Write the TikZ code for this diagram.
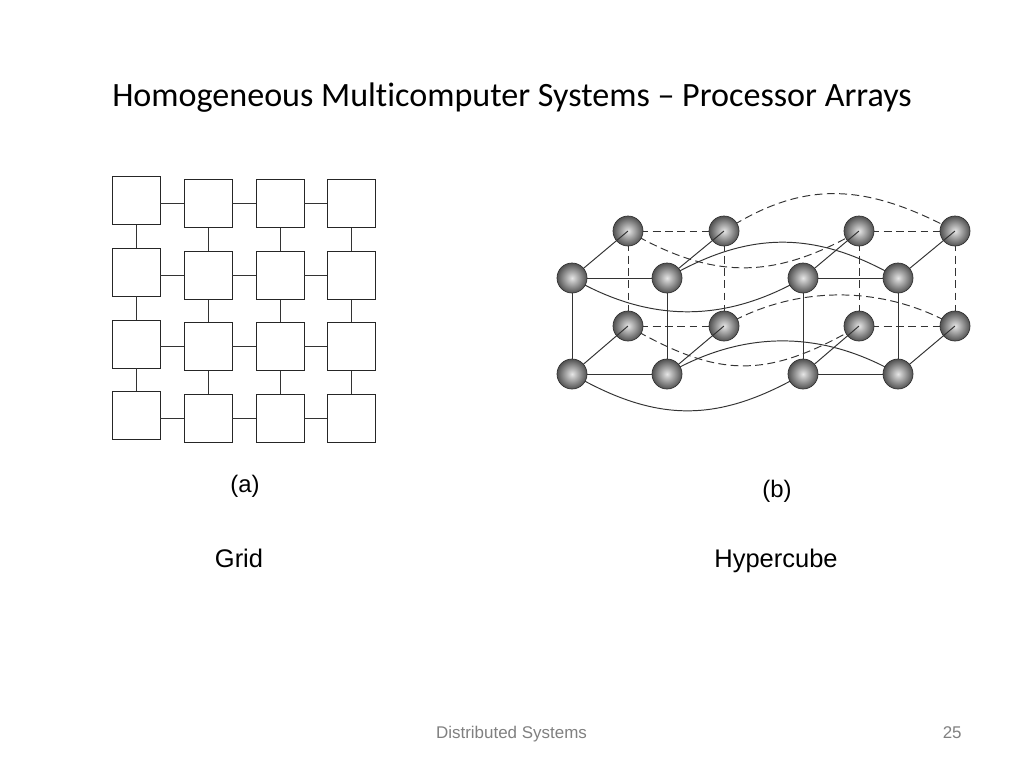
\documentclass[tikz,border=0pt]{standalone}
\usepackage{fontspec}
\setmainfont{Liberation Sans}
\newfontfamily\titlefont[Ligatures=NoCommon]{Carlito}
\usetikzlibrary{positioning}

\begin{document}
\begin{tikzpicture}[
    x=0.02cm,
    y=0.02cm,
    % Styles for the two networks
    cell/.style={draw=black!85, line width=0.55pt, fill=white, minimum size=0.96cm, inner sep=0pt},
    ball/.style={circle, draw=black!80, line width=0.4pt, inner color=black!10, outer color=black!68, minimum size=0.6cm, inner sep=0pt},
    link/.style={draw=black!80, line width=0.55pt},
    hidden/.style={draw=black!80, line width=0.55pt, dash pattern=on 4.5pt off 2.5pt},
    caption/.style={font=\fontsize{13.6}{16}\selectfont, inner sep=0pt, anchor=base},
    netname/.style={font=\fontsize{14.5}{17}\selectfont, inner sep=0pt, anchor=base},
    footer/.style={text=black!50, font=\fontsize{9.65}{12}\selectfont, inner sep=0pt}
]

    \useasboundingbox (0,0) rectangle (1024,-768);

    % 1. The Title
    \node[inner sep=0pt, anchor=base, font=\titlefont\fontsize{19.4}{22}\selectfont] (title) at (512,-106) {Homogeneous Multicomputer Systems – Processor Arrays};

    % 2. The Grid (first column sits a little higher)
    \foreach \r/\y in {1/200.5,2/272,3/344,4/415.5} {
        \node[cell] (g\r1) at (136,-\y) {};
    }
    \foreach \c/\x in {2/208,3/280,4/351.5} {
        \foreach \r/\y in {1/203.5,2/275.5,3/346.5,4/418.5} {
            \node[cell] (g\r\c) at (\x,-\y) {};
        }
    }
    \foreach \r in {1,2,3,4} {
        \draw[link] (g\r2.west -| g\r1.east) -- (g\r2.west);
        \draw[link] (g\r2) -- (g\r3);
        \draw[link] (g\r3) -- (g\r4);
    }
    \foreach \c in {1,2,3,4} {
        \draw[link] (g1\c) -- (g2\c);
        \draw[link] (g2\c) -- (g3\c);
        \draw[link] (g3\c) -- (g4\c);
    }

    % 3. The Hypercube, back of both cubes first
    \foreach \i/\x in {1/628,2/724,3/859,4/955} {
        \coordinate (bt\i) at (\x,-231);
        \coordinate (bl\i) at (\x,-326);
    }
    \foreach \i in {1,2,3,4} {
        \draw[hidden] (bt\i) -- (bl\i);
    }
    \foreach \a/\b in {1/2,3/4} {
        \draw[hidden] (bt\a) -- (bt\b);
        \draw[hidden] (bl\a) -- (bl\b);
    }
    \draw[hidden] (bt2) to[out=33, in=152, looseness=1.09] (bt4);
    \draw[hidden] (bl2) to[out=30, in=150, looseness=0.92] (bl4);
    \draw[hidden] (bt1) to[out=-30, in=-150, looseness=1.09] (bt3);
    \draw[hidden] (bl1) to[out=-30, in=-150, looseness=1.18] (bl3);
    \foreach \i in {1,2,3,4} {
        \node[ball] (B\i) at (bt\i) {};
        \node[ball] (L\i) at (bl\i) {};
    }

    % 4. The front of both cubes, with lines reaching into the back balls
    \foreach \i/\x in {1/572,2/667,3/803,4/898} {
        \coordinate (ft\i) at (\x,-278);
        \coordinate (fl\i) at (\x,-374);
        \draw[link] (ft\i) -- (B\i.center);
        \draw[link] (fl\i) -- (L\i.center);
        \draw[link] (ft\i) -- (fl\i);
    }
    \foreach \a/\b in {1/2,3/4} {
        \draw[link] (ft\a) -- (ft\b);
        \draw[link] (fl\a) -- (fl\b);
    }
    \draw[link] (ft2) to[out=30, in=150, looseness=1.06] (ft4);
    \draw[link] (fl2) to[out=30, in=150, looseness=0.98] (fl4);
    \draw[link] (ft1) to[out=-30, in=-150, looseness=1] (ft3);
    \draw[link] (fl1) to[out=-30, in=-150, looseness=1.09] (fl3);
    \foreach \i in {1,2,3,4} {
        \node[ball] (F\i) at (ft\i) {};
        \node[ball] (D\i) at (fl\i) {};
    }

    % 5. The Captions
    \node[caption] (capa) at (245,-492) {(a)};
    \node[caption] (capb) at (777,-497) {(b)};
    \node[netname] (grid) at (239,-567) {Grid};
    \node[netname] (cube) at (776,-567) {Hypercube};
    \node[footer, anchor=base] (foot) at (511.5,-738) {Distributed Systems};
    \node[footer, anchor=base east] (page) at (962,-738) {25};

\end{tikzpicture}
\end{document}
